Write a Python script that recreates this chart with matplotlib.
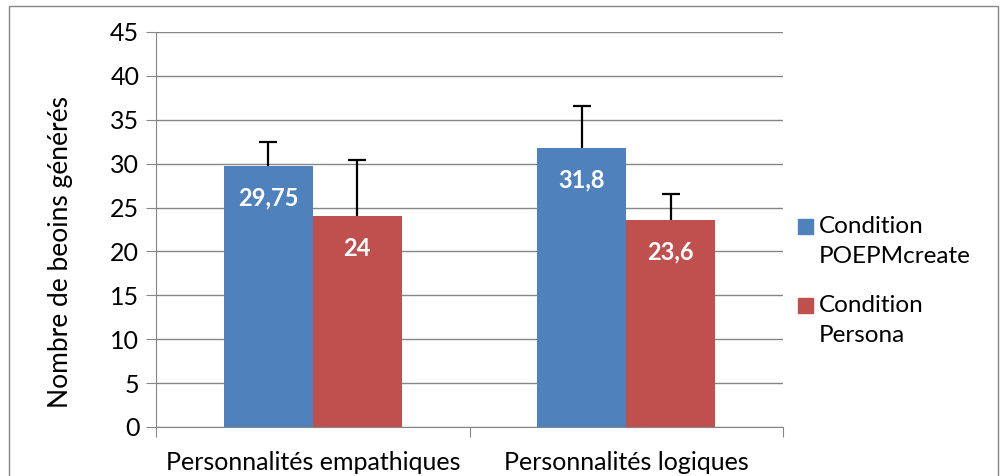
import numpy as np
import matplotlib.pyplot as plt
from matplotlib.patches import Rectangle

# data
categories = ["Personnalités empathiques", "Personnalités logiques"]
series = ["Condition\nPOEPMcreate", "Condition\nPersona"]
poepm = [29.75, 31.8]
persona = [24, 23.6]
poepm_err = [2.75, 4.8]
persona_err = [6.4, 2.9]
labels_poepm = ["29,75", "31,8"]
labels_persona = ["24", "23,6"]
colors = ["#4F81BD", "#C0504D"]

plt.rcParams["font.family"] = ["Lato", "DejaVu Sans"]
W, H = 1005, 476
fig = plt.figure(figsize=(W / 100, H / 100), dpi=100)
ax = fig.add_axes([156 / W, 1 - 427 / H, (783 - 156) / W, (427 - 32) / H])

x = np.arange(len(categories))
bw = 0.284
b1 = ax.bar(x - bw / 2, poepm, bw, color=colors[0], zorder=3)
b2 = ax.bar(x + bw / 2, persona, bw, color=colors[1], zorder=3)

# upper-only error bars
for xs, ys, es in [(x - bw / 2, poepm, poepm_err), (x + bw / 2, persona, persona_err)]:
    eb = ax.errorbar(xs, ys, yerr=es, lolims=True, fmt="none", ecolor="black",
                     elinewidth=1.6, zorder=4)
    for cl in eb[1]:
        cl.set_marker("_")
        cl.set_markersize(13)
        cl.set_markeredgewidth(1.6)

for bars, labs in [(b1, labels_poepm), (b2, labels_persona)]:
    for rect, lab in zip(bars, labs):
        ax.annotate(lab, (rect.get_x() + rect.get_width() / 2, rect.get_height()),
                    xytext=(0, -23), textcoords="offset points",
                    ha="center", va="center", color="white",
                    fontsize=17, fontweight="bold", zorder=5)

ax.set_xlim(-0.5, 1.5)
ax.set_ylim(0, 45)
ax.set_yticks(range(0, 46, 5))
ax.set_xticks([-0.5, 0.5, 1.5], minor=False)
ax.set_xticklabels([])
ax.set_xticks(x, minor=True)
ax.set_xticklabels(categories, minor=True)
ax.tick_params(axis="x", which="minor", length=0, pad=17, labelsize=18)
ax.tick_params(axis="x", which="major", length=7, color="#868686", direction="out")
ax.tick_params(axis="y", length=7, color="#868686", labelsize=18, pad=5)
ax.grid(axis="y", color="#868686", lw=1, zorder=0)
for s in ["top", "right"]:
    ax.spines[s].set_visible(False)
for s in ["left", "bottom"]:
    ax.spines[s].set_color("#868686")
ax.set_ylabel("Nombre de beoins générés", fontsize=19, va="center")
ax.yaxis.set_label_coords(-0.153, 0.443)

# legend drawn to match the Excel layout (square next to first line)
for i, (lab, c) in enumerate(zip(series, colors)):
    ytop = 219 + i * 79
    fig.add_artist(Rectangle((798 / W, 1 - (ytop + 15) / H), 15 / W, 15 / H,
                             transform=fig.transFigure, color=c))
    fig.text(819 / W, 1 - (ytop - 3) / H, lab, fontsize=17.5, va="top",
             ha="left", linespacing=1.55)

fig.add_artist(Rectangle((9 / W, -0.05), 989 / W, 1 - 6 / H + 0.05,
                         transform=fig.transFigure, fill=False,
                         edgecolor="#868686", lw=1))

fig.savefig("out.png", dpi=100)
